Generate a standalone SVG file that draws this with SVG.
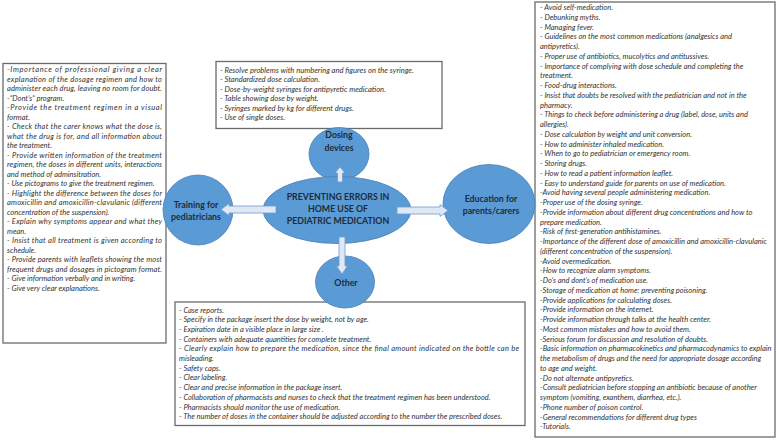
<svg xmlns="http://www.w3.org/2000/svg" width="777" height="440" viewBox="0 0 777 440">
<style>
.box{fill:#fff;stroke:#6a6a6a;stroke-width:1.3}
.node{fill:#5b9bd5;stroke:#4a7fb6;stroke-width:.8}
.lbl{font-family:Lato,"Open Sans",sans-serif;font-weight:700;font-size:8.8px;fill:#1d2b3a;text-anchor:middle}
.t{font-family:Lato,"Open Sans",sans-serif;font-style:italic;font-size:7.5px;fill:#333}
.tt{font-size:7.6px}
.arr{fill:#dfe9f5;stroke:#6f9bcf;stroke-width:.8}
</style>
<rect width="777" height="440" fill="#fff"/>
<g id="box-training">
<rect class="box" x="3" y="63.5" width="163" height="279.5"/>
<g class="t">
<text x="7" y="72" textLength="155" lengthAdjust="spacing">-Importance of professional giving a clear</text>
<text x="7" y="81.5" textLength="155" lengthAdjust="spacing">explanation of the dosage regimen and how to</text>
<text x="7" y="91" textLength="155" lengthAdjust="spacing">administer each drug, leaving no room for doubt.</text>
<text x="7" y="100.5">-“Dont’s” program.</text>
<text x="7" y="110" textLength="155" lengthAdjust="spacing">-Provide the treatment regimen in a visual</text>
<text x="7" y="119.5">format.</text>
<text x="7" y="129" textLength="155" lengthAdjust="spacing">- Check that the carer knows what the dose is,</text>
<text x="7" y="138.5" textLength="155" lengthAdjust="spacing">what the drug is for, and all information about</text>
<text x="7" y="148">the treatment.</text>
<text x="7" y="157.5" textLength="155" lengthAdjust="spacing">- Provide written information of the treatment</text>
<text x="7" y="167" textLength="155" lengthAdjust="spacing">regimen, the doses in different units, interactions</text>
<text x="7" y="176.5">and method of adminsitration.</text>
<text x="7" y="186">- Use pictograms to give the treatment regimen.</text>
<text x="7" y="195.5" textLength="155" lengthAdjust="spacing">- Highlight the difference between the doses for</text>
<text x="7" y="205" textLength="155" lengthAdjust="spacing">amoxicillin and amoxicillin-clavulanic (different</text>
<text x="7" y="214.5">concentration of the suspension).</text>
<text x="7" y="224" textLength="155" lengthAdjust="spacing">- Explain why symptoms appear and what they</text>
<text x="7" y="233.5">mean.</text>
<text x="7" y="243" textLength="155" lengthAdjust="spacing">- Insist that all treatment is given according to</text>
<text x="7" y="252.5">schedule.</text>
<text x="7" y="262" textLength="155" lengthAdjust="spacing">- Provide parents with leaflets showing the most</text>
<text x="7" y="271.5" textLength="155" lengthAdjust="spacing">frequent drugs and dosages in pictogram format.</text>
<text x="7" y="281">- Give information verbally and in writing.</text>
<text x="7" y="290.5">- Give very clear explanations.</text>
</g>
</g>
<g id="box-dosing">
<rect class="box" x="216" y="61.5" width="226" height="67"/>
<g class="t tt">
<text x="220" y="72.5">- Resolve problems with numbering and figures on the syringe.</text>
<text x="220" y="82">- Standardized dose calculation.</text>
<text x="220" y="91.5">- Dose-by-weight syringes for antipyretic medication.</text>
<text x="220" y="101">- Table showing dose by weight.</text>
<text x="220" y="110.5">- Syringes marked by kg for different drugs.</text>
<text x="220" y="120">- Use of single doses.</text>
</g>
</g>
<g id="box-other">
<rect class="box" x="175" y="302" width="350" height="123.5"/>
<g class="t">
<text x="179" y="312.5">- Case reports.</text>
<text x="179" y="322.2">- Specify in the package insert the dose by weight, not by age.</text>
<text x="179" y="331.9">- Expiration date in a visible place in large size .</text>
<text x="179" y="341.6">- Containers with adequate quantities for complete treatment.</text>
<text x="179" y="351.3" textLength="340" lengthAdjust="spacing">- Clearly explain how to prepare the medication, since the final amount indicated on the bottle can be</text>
<text x="179" y="361">misleading.</text>
<text x="179" y="370.7">- Safety caps.</text>
<text x="179" y="380.4">- Clear labeling.</text>
<text x="179" y="390.1">- Clear and precise information in the package insert.</text>
<text x="179" y="399.8">- Collaboration of pharmacists and nurses to check that the treatment regimen has been understood.</text>
<text x="179" y="409.5">- Pharmacists should monitor the use of medication.</text>
<text x="179" y="419.2">- The number of doses in the container should be adjusted according to the number the prescribed doses.</text>
</g>
</g>
<g id="box-education">
<rect class="box" x="535" y="2" width="240" height="435"/>
<g class="t">
<text x="540" y="10">- Avoid self-medication.</text>
<text x="540" y="19.75">- Debunking myths.</text>
<text x="540" y="29.5">- Managing fever.</text>
<text x="540" y="39.25">- Guidelines on the most common medications (analgesics and</text>
<text x="540" y="49">antipyretics).</text>
<text x="540" y="58.75">- Proper use of antibiotics, mucolytics and antitussives.</text>
<text x="540" y="68.5">- Importance of complying with dose schedule and completing the</text>
<text x="540" y="78.25">treatment.</text>
<text x="540" y="88">- Food-drug interactions.</text>
<text x="540" y="97.75">- Insist that doubts be resolved with the pediatrician and not in the</text>
<text x="540" y="107.5">pharmacy.</text>
<text x="540" y="117.25">- Things to check before administering a drug (label, dose, units and</text>
<text x="540" y="127">allergies).</text>
<text x="540" y="136.75">- Dose calculation by weight and unit conversion.</text>
<text x="540" y="146.5">- How to administer inhaled medication.</text>
<text x="540" y="156.25">- When to go to pediatrician or emergency room.</text>
<text x="540" y="166">- Storing drugs.</text>
<text x="540" y="175.75">- How to read a patient information leaflet.</text>
<text x="540" y="185.5">- Easy to understand guide for parents on use of medication.</text>
<text x="540" y="195.25">-Avoid having several people administering medication.</text>
<text x="540" y="205">-Proper use of the dosing syringe.</text>
<text x="540" y="214.75">-Provide information about different drug concentrations and how to</text>
<text x="540" y="224.5">prepare medication.</text>
<text x="540" y="234.25">-Risk of first-generation antihistamines.</text>
<text x="540" y="244">-Importance of the different dose of amoxicillin and amoxicillin-clavulanic</text>
<text x="540" y="253.75">(different concentration of the suspension).</text>
<text x="540" y="263.5">-Avoid overmedication.</text>
<text x="540" y="273.25">-How to recognize alarm symptoms.</text>
<text x="540" y="283">-Do’s and dont’s of medication use.</text>
<text x="540" y="292.75">-Storage of medication at home: preventing poisoning.</text>
<text x="540" y="302.5">-Provide applications for calculating doses.</text>
<text x="540" y="312.25">-Provide information on the internet.</text>
<text x="540" y="322">-Provide information through talks at the health center.</text>
<text x="540" y="331.75">-Most common mistakes and how to avoid them.</text>
<text x="540" y="341.5">-Serious forum for discussion and resolution of doubts.</text>
<text x="540" y="351.25">-Basic information on pharmacokinetics and pharmacodynamics to explain</text>
<text x="540" y="361">the metabolism of drugs and the need for appropriate dosage according</text>
<text x="540" y="370.75">to age and weight.</text>
<text x="540" y="380.5">-Do not alternate antipyretics.</text>
<text x="540" y="390.25">-Consult pediatrician before stopping an antibiotic because of another</text>
<text x="540" y="400">symptom (vomiting, exanthem, diarrhea, etc.).</text>
<text x="540" y="409.75">-Phone number of poison control.</text>
<text x="540" y="419.5">-General recommendations for different drug types</text>
<text x="540" y="429.25">-Tutorials.</text>
</g>
</g>
<g id="node-dosing">
<ellipse class="node" cx="339" cy="154" rx="30" ry="26.5"/>
<text class="lbl" x="339" y="138">Dosing</text>
<text class="lbl" x="339" y="151">devices</text>
</g>
<g id="node-training">
<ellipse class="node" cx="198" cy="210" rx="35" ry="35"/>
<text class="lbl" x="196" y="207.5">Training for</text>
<text class="lbl" x="196" y="219.5">pediatricians</text>
</g>
<g id="node-education">
<ellipse class="node" cx="489" cy="204" rx="46" ry="39.5"/>
<text class="lbl" x="491" y="202">Education for</text>
<text class="lbl" x="491" y="214">parents/carers</text>
</g>
<g id="node-other">
<ellipse class="node" cx="345" cy="282" rx="29.5" ry="26"/>
<text class="lbl" x="346" y="286">Other</text>
</g>
<g id="node-center">
<ellipse class="node" cx="337" cy="210" rx="74" ry="33.5"/>
<text class="lbl" x="338" y="200">PREVENTING ERRORS IN</text>
<text class="lbl" x="338" y="212">HOME USE OF</text>
<text class="lbl" x="338" y="224">PEDIATRIC MEDICATION</text>
</g>
<g id="connectors">
<polygon class="arr" points="276,206 229,206 229,203.5 221,209.5 229,215.5 229,213 276,213"/>
<polygon class="arr" points="397,207 440,207 440,204.5 448,210.5 440,216.5 440,214 397,214"/>
<polygon class="arr" points="337.5,182 337.5,173 335,173 340,167 345,173 342.5,173 342.5,182"/>
<polygon class="arr" points="339,237 339,266 336.5,266 342,274 347.5,266 345,266 345,237"/>
</g>
</svg>
